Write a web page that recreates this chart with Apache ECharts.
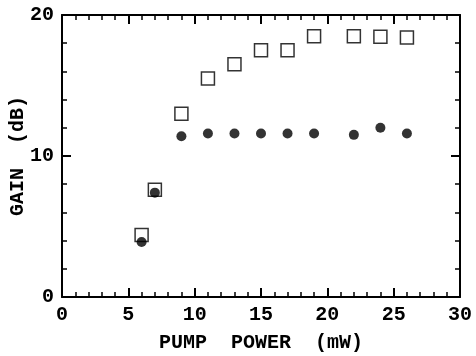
<!DOCTYPE html>
<html lang="en">
  <head>
    <meta charset="UTF-8" />
    <title>Gain vs pump power</title>
    <script src="https://cdn.jsdelivr.net/npm/echarts@6/dist/echarts.min.js"></script>
  </head>
  <body style="margin: 0; background: #fff">
    <div id="main" style="width: 476px; height: 356px"></div>

    <script type="text/javascript">
      // pump power (mW) and gain (dB)
      const pumpSquares = [6, 7, 9, 11, 13, 15, 17, 19, 22, 24, 26];
      const gainSquares = [4.4, 7.6, 13.0, 15.5, 16.5, 17.5, 17.5, 18.5, 18.5, 18.45, 18.4];
      const pumpDots = [6, 7, 9, 11, 13, 15, 17, 19, 22, 24, 26];
      const gainDots = [3.9, 7.4, 11.4, 11.6, 11.6, 11.6, 11.6, 11.6, 11.5, 12.0, 11.6];

      const xTicks = [0, 5, 10, 15, 20, 25, 30];
      const yTicks = [0, 10, 20];

      let myChart = echarts.init(document.getElementById("main"));

      const font = "Liberation Mono";
      const line = { show: true, onZero: false, lineStyle: { color: "#000", width: 2 } };
      const tick = { show: true, inside: true, length: 9, lineStyle: { color: "#000", width: 2 } };
      const minor = { show: true, splitNumber: 5, length: 5, lineStyle: { color: "#000", width: 1.5 } };
      const labelStyle = { fontFamily: font, fontWeight: "bold", fontSize: 20, color: "#000" };

      const xBase = { type: "value", min: 0, max: 30, interval: 5, axisLine: line, axisTick: tick, minorTick: minor, splitLine: { show: false } };
      const yBase = { type: "value", min: 0, max: 20, interval: 10, axisLine: line, axisTick: tick, minorTick: minor, splitLine: { show: false } };

      let options = {
        animation: false,
        grid: { left: 62, right: 16, top: 15, bottom: 59, containLabel: false, outerBoundsMode: "none" },
        xAxis: [
          Object.assign({}, xBase, {
            position: "bottom",
            name: "PUMP  POWER  (mW)",
            nameLocation: "middle",
            nameGap: 36,
            nameMoveOverlap: false,
            nameTextStyle: labelStyle,
            axisLabel: Object.assign({ margin: 8, formatter: (v) => (xTicks.includes(v) ? String(v) : "") }, labelStyle)
          }),
          Object.assign({}, xBase, { position: "top", axisLabel: { show: false } })
        ],
        yAxis: [
          Object.assign({}, yBase, {
            position: "left",
            name: "GAIN  (dB)",
            nameLocation: "middle",
            nameGap: 34,
            nameMoveOverlap: false,
            nameTextStyle: labelStyle,
            axisLabel: Object.assign({ margin: 8, formatter: (v) => (yTicks.includes(v) ? String(v) : "") }, labelStyle)
          }),
          Object.assign({}, yBase, { position: "right", axisLabel: { show: false } })
        ],
        series: [
          {
            type: "scatter",
            symbol: "rect",
            symbolSize: 13,
            itemStyle: { color: "#fff", borderColor: "#000", borderWidth: 1.5 },
            data: pumpSquares.map((x, i) => [x, gainSquares[i]]),
            z: 2
          },
          {
            type: "scatter",
            symbol: "circle",
            symbolSize: 10,
            itemStyle: { color: "#000" },
            data: pumpDots.map((x, i) => [x, gainDots[i]]),
            z: 3
          }
        ]
      };

      myChart.setOption(options);
    </script>
  </body>
</html>
